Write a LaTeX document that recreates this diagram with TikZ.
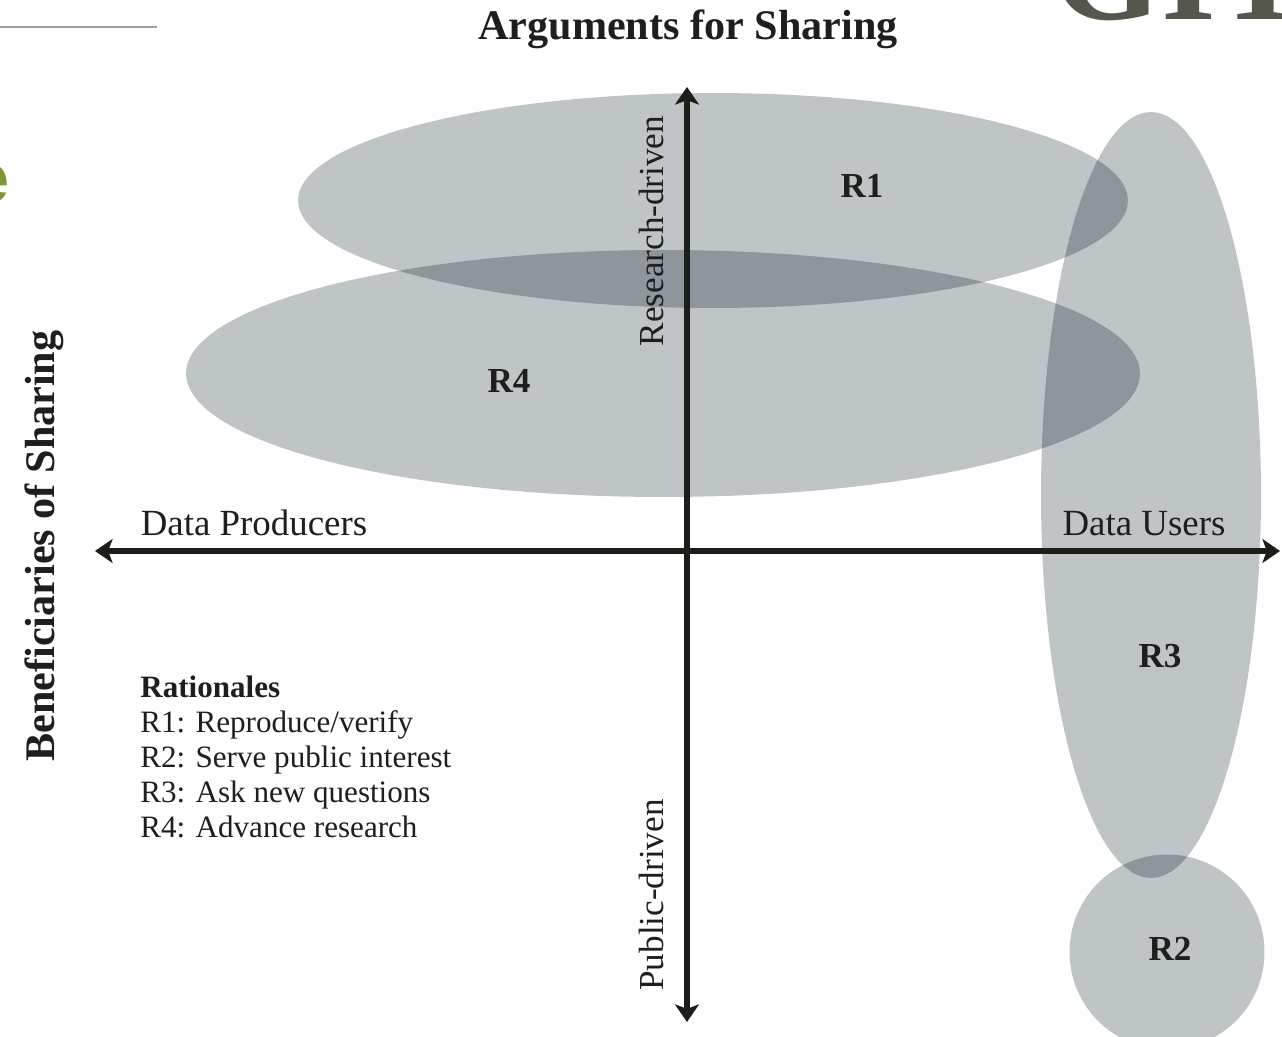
\documentclass[tikz,border=0pt]{standalone}
\usepackage{fontspec}
\setmainfont{Liberation Serif}
\newfontfamily\sansf{Liberation Sans}
\usetikzlibrary{arrows.meta,shapes.geometric}
\definecolor{blobgray}{RGB}{191,196,199}
\definecolor{inkc}{RGB}{30,30,28}
\definecolor{axisc}{RGB}{28,30,26}
\definecolor{logoc}{RGB}{85,86,76}
\definecolor{greenc}{RGB}{125,150,55}
\definecolor{rulec}{RGB}{160,160,160}
\tikzset{
  blob/.style={ellipse,fill=blobgray,draw=none,inner sep=0pt,outer sep=0pt},
  axisline/.style={draw=axisc,line width=3.4pt,
    {Stealth[length=10pt,width=13.6pt,inset=2.5pt]}-{Stealth[length=10pt,width=13.6pt,inset=2.5pt]}},
  regtxt/.style={text=inkc,inner sep=0pt,font=\fontsize{21}{25}\selectfont},
  rottxt/.style={text=inkc,inner sep=0pt,rotate=90,anchor=base,font=\fontsize{20}{24}\selectfont},
  titletxt/.style={text=inkc,inner sep=0pt,anchor=base,font=\bfseries\fontsize{24}{28}\selectfont},
  rlabel/.style={text=inkc,inner sep=0pt,font=\bfseries\fontsize{20}{24}\selectfont},
}
\begin{document}
\begin{tikzpicture}[x=0.02cm,y=-0.02cm]
\useasboundingbox (0,0) rectangle (1282,1037);
\clip (0,0) rectangle (1282,1037);
% stray page elements
\draw[rulec,line width=0.9pt] (0,27) -- (157,27);
\node[anchor=base east,inner sep=0pt,text=greenc,font=\sansf\bfseries\fontsize{40}{44}\selectfont] (greene) at (10,203) {e};
\node[anchor=base west,inner sep=0pt,text=logoc,font=\bfseries\fontsize{80}{90}\selectfont] (logo) at (1052,20) {GIT};
% rationale regions
\begin{scope}[blend mode=multiply]
\node[blob,minimum width=16.6cm,minimum height=4.3cm] (e1) at (713,200.5) {};
\node[blob,minimum width=19.08cm,minimum height=4.94cm] (e4) at (663,373.5) {};
\node[blob,minimum width=4.4cm,minimum height=15.32cm] (e3) at (1151,495) {};
\node[blob,circle,minimum size=3.9cm] (e2) at (1167,952) {};
\end{scope}
% axes
\coordinate (axl) at (95,551);
\coordinate (axr) at (1280,551);
\coordinate (axt) at (687,87);
\coordinate (axb) at (687,1022);
\draw[axisline] (axl) -- (axr);
\draw[axisline] (axb) -- (axt);
% labels
\node[titletxt] (title) at (688,40) {Arguments for Sharing};
\node[titletxt,rotate=90] (benef) at (54,546) {Beneficiaries of Sharing};
\node[rottxt] (resd) at (663,231) {Research-driven};
\node[rottxt] (pubd) at (663,895) {Public-driven};
\node[regtxt,anchor=base] (prod) at (254,535) {Data Producers};
\node[regtxt,anchor=base] (users) at (1144,535) {Data Users};
\node[rlabel] (r1) at (862,186) {R1};
\node[rlabel] (r4) at (509,381) {R4};
\node[rlabel] (r3) at (1160,656) {R3};
\node[rlabel] (r2) at (1170,949) {R2};
\node[text=inkc,inner sep=0pt,anchor=base west,align=left,font=\fontsize{17.7}{19.85}\selectfont] (rat) at (140,837)
  {\textbf{Rationales}\\R1: Reproduce/verify\\R2: Serve public interest\\R3: Ask new questions\\R4: Advance research};
\end{tikzpicture}
\end{document}
